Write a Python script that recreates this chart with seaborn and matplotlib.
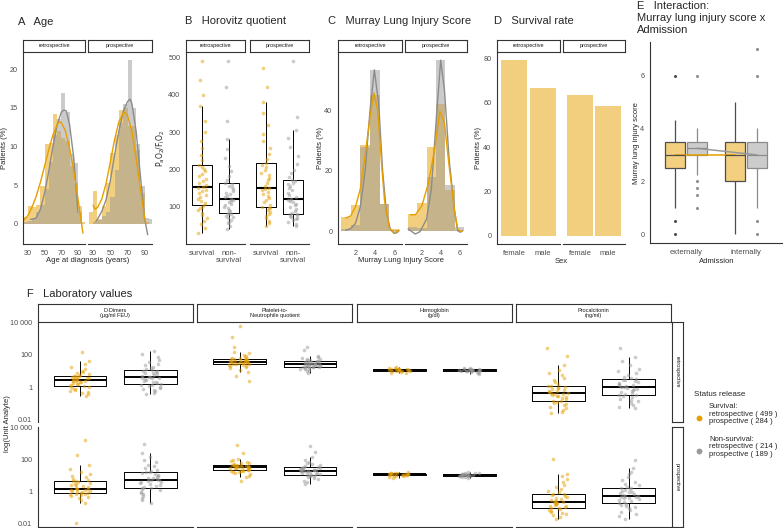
import numpy as np
import pandas as pd
import matplotlib
matplotlib.use('Agg')
import matplotlib.pyplot as plt
import seaborn as sns
from matplotlib.lines import Line2D
from matplotlib.ticker import NullLocator

# ---------------- data ----------------
status_order = ['survival', 'non-survival']

# A: age histograms (% of patients per 5-year bin) and smoothed curves
age_bins = [22.5, 27.5, 32.5, 37.5, 42.5, 47.5, 52.5, 57.5, 62.5, 67.5, 72.5, 77.5, 82.5, 87.5, 92.5, 97.5]
age_retro_surv = [0.6, 0.9, 2.3, 2.2, 2.4, 4.9, 10.3, 10.5, 14.2, 12.0, 11.1, 10.7, 7.5, 5.3, 2.3, 0.2]
age_retro_non = [0.0, 0.2, 0.4, 0.8, 1.5, 2.5, 4.5, 8.0, 11.5, 13.5, 16.9, 14.5, 9.0, 7.9, 1.5, 0.0]
age_pros_surv = [0.0, 1.5, 4.3, 0.6, 2.3, 5.3, 9.1, 11.5, 14.7, 15.0, 12.6, 12.6, 9.6, 4.0, 0.2, 0.0]
age_pros_non = [0.0, 0.0, 0.3, 0.5, 1.0, 1.5, 3.5, 7.0, 13.0, 15.5, 21.2, 15.0, 10.3, 4.9, 0.8, 0.6]

age_curve_retro_surv_x = [25, 30, 35, 40, 45, 50, 55, 60, 65, 68, 70, 75, 80, 85, 90, 96]
age_curve_retro_surv_y = [0.5, 1.1, 2.2, 3.6, 5.4, 7.5, 9.6, 11.5, 12.8, 13.2, 13.1, 12.0, 9.8, 6.8, 3.3, -1.2]
age_curve_retro_non_x = [33, 36, 40, 45, 50, 55, 60, 65, 70, 73, 76, 80, 85, 90]
age_curve_retro_non_y = [0.6, 0.6, 0.8, 1.9, 4.0, 6.8, 10.0, 12.8, 14.4, 14.7, 14.6, 12.8, 8.5, 1.5]
age_curve_pros_surv_x = [30, 32, 35, 40, 45, 50, 55, 60, 65, 67, 70, 75, 80, 85, 90, 91.5]
age_curve_pros_surv_y = [2.4, 1.9, 2.1, 3.2, 5.2, 8.0, 10.9, 13.2, 14.3, 14.4, 14.0, 12.0, 8.5, 4.5, 0.7, 0.0]
age_curve_pros_non_x = [33, 35, 40, 45, 50, 55, 60, 65, 70, 73, 75, 80, 85, 90, 93.5]
age_curve_pros_non_y = [0.3, 0.6, 1.6, 3.1, 5.6, 8.9, 12.0, 14.5, 15.8, 16.1, 15.6, 12.0, 6.2, 0.6, -1.4]

# B: Horovitz quotient (PaO2/FiO2)
pf_retro_surv = [31, 45, 55, 62, 70, 78, 85, 92, 97, 101, 105, 110, 116, 121, 127, 132, 137, 142, 146, 150, 153,
                 158, 164, 170, 176, 182, 188, 195, 201, 206, 211, 225, 240, 258, 275, 300, 330, 369, 400, 440, 490]
pf_retro_non = [42, 50, 56, 61, 66, 70, 74, 77, 80, 82, 84, 88, 92, 96, 100, 104, 108, 112, 116, 119, 122,
                126, 130, 134, 138, 142, 147, 152, 156, 160, 164, 172, 182, 195, 210, 230, 255, 282, 330, 420, 490]
pf_pros_surv = [48, 56, 63, 70, 76, 82, 87, 92, 96, 98, 100, 106, 112, 118, 124, 130, 135, 140, 144, 148, 151,
                157, 164, 171, 178, 185, 192, 199, 206, 212, 217, 228, 242, 258, 275, 295, 320, 350, 380, 420, 470]
pf_pros_non = [50, 55, 60, 64, 68, 71, 74, 77, 79, 80, 81, 85, 90, 95, 100, 104, 108, 112, 116, 119, 121,
               126, 132, 138, 144, 150, 155, 160, 165, 169, 172, 180, 190, 200, 215, 235, 260, 285, 306, 340, 490]

# C: Murray lung injury score histograms and curves
murray_bins = [1, 2, 3, 4, 5, 6]
murray_retro_surv = [4.5, 8.7, 28.7, 45.0, 8.9, 0.7]
murray_retro_non = [0.8, 2.0, 28.0, 53.5, 9.0, 0.5]
murray_pros_surv = [5.6, 9.2, 27.9, 42.0, 13.6, 0.5]
murray_pros_non = [1.5, 1.0, 18.0, 56.7, 15.2, 1.2]

murray_curve_retro_surv_x = [1.0, 1.5, 2.0, 2.5, 3.0, 3.5, 3.9, 4.3, 4.7, 5.0, 5.5, 6.0, 6.5]
murray_curve_retro_surv_y = [4.3, 5.0, 8.0, 14.0, 25.0, 38.0, 45.8, 40.0, 22.0, 10.0, 1.0, -0.5, 0.2]
murray_curve_retro_non_x = [1.0, 1.5, 2.0, 2.5, 3.0, 3.5, 3.95, 4.4, 4.8, 5.2, 5.6, 6.0, 6.3, 6.5]
murray_curve_retro_non_y = [0.3, 0.8, 2.5, 8.0, 20.0, 40.0, 53.5, 42.0, 20.0, 6.0, 0.5, -0.8, -0.5, 0.2]
murray_curve_pros_surv_x = [0.77, 1.3, 2.0, 2.7, 3.4, 3.9, 4.4, 4.9, 5.45, 5.8, 6.15, 6.3]
murray_curve_pros_surv_y = [5.4, 5.4, 8.4, 16.0, 28.0, 39.7, 35.8, 21.5, 7.3, 0.7, -0.2, 0.0]
murray_curve_pros_non_x = [0.53, 1.3, 1.8, 2.5, 3.0, 3.55, 4.0, 4.4, 4.9, 5.45, 5.8, 6.1, 6.3]
murray_curve_pros_non_y = [0.7, -1.0, -0.2, 4.0, 13.8, 38.0, 56.7, 46.8, 23.7, 7.3, 0.1, -0.4, 0.0]

# D: survival rate by sex
sex_labels = ['female', 'male']
survival_retro = [79.2, 66.8]
survival_pros = [63.5, 58.5]

# E: Murray lung injury score by admission and status
admission_order = ['externally', 'internally']
e_ext_surv = [0, 0.5, 1.0, 1.5, 1.75, 2.0, 2.0, 2.25, 2.25, 2.5, 2.5, 2.5, 2.5, 2.75, 2.75, 2.75, 3.0, 3.0, 3.0, 3.0,
              3.0, 3.0, 3.0, 3.0, 3.25, 3.25, 3.25, 3.25, 3.5, 3.5, 3.5, 3.5, 3.5, 3.5, 3.75, 3.75, 4.0, 4.0, 4.0,
              4.33, 6.0]
e_ext_non = [1.0, 1.5, 1.75, 2.0, 2.25, 2.5, 2.75, 2.75, 3.0, 3.0, 3.0, 3.0, 3.0, 3.0, 3.0, 3.25, 3.25, 3.25, 3.25,
             3.25, 3.25, 3.25, 3.25, 3.25, 3.25, 3.5, 3.5, 3.5, 3.5, 3.5, 3.5, 3.5, 3.5, 3.5, 3.5, 3.75, 3.75, 4.0,
             4.0, 4.0, 6.0]
e_int_surv = [0, 0.5, 1.0, 1.0, 1.25, 1.5, 1.5, 1.75, 1.75, 2.0, 2.0, 2.25, 2.25, 2.5, 2.5, 2.5, 2.75, 2.75, 2.75,
              3.0, 3.0, 3.0, 3.0, 3.0, 3.0, 3.25, 3.25, 3.25, 3.25, 3.5, 3.5, 3.5, 3.5, 3.75, 3.75, 4.0, 4.0, 4.25,
              4.5, 4.75, 5.0]
e_int_non = [0, 0.5, 1.0, 1.5, 1.75, 2.0, 2.0, 2.25, 2.25, 2.5, 2.5, 2.5, 2.75, 2.75, 2.75, 3.0, 3.0, 3.0, 3.0, 3.0,
             3.0, 3.0, 3.0, 3.25, 3.25, 3.25, 3.25, 3.5, 3.5, 3.5, 3.5, 3.5, 3.5, 3.75, 3.75, 3.75, 4.0, 4.0, 4.0,
             6.0, 7.0]

# F: laboratory values
lab_names = ['D-Dimers\n(µg/ml FEU)', 'Platelet-to-\nNeutrophile quotient', 'Hemoglobin\n(g/dl)',
             'Procalcitonin\n(ng/ml)']
cohorts = ['retrospective', 'prospective']

ddimer_retro_surv = [0.28, 0.35, 0.42, 0.5, 0.6, 0.7, 0.8, 0.9, 1.0, 1.1, 1.23, 1.35, 1.5, 1.65, 1.8, 1.95, 2.1, 2.25,
                     2.4, 2.5, 2.6, 2.8, 3.0, 3.2, 3.4, 3.7, 4.0, 4.3, 4.6, 4.9, 5.1, 5.6, 6.3, 7.2, 8.5, 10, 13, 18,
                     28, 42, 150]
ddimer_retro_non = [0.37, 0.45, 0.55, 0.65, 0.75, 0.85, 0.95, 1.1, 1.25, 1.4, 1.55, 1.75, 2.0, 2.2, 2.5, 2.8, 3.1, 3.4,
                    3.7, 3.9, 4.1, 4.5, 5.0, 5.6, 6.2, 7.0, 7.8, 8.7, 9.7, 10.6, 11.5, 13, 15, 18, 22, 28, 36, 50,
                    75, 120, 182]
ddimer_pros_surv = [0.0115, 0.21, 0.3, 0.4, 0.48, 0.55, 0.62, 0.68, 0.73, 0.77, 0.81, 0.86, 0.92, 0.98, 1.05, 1.12,
                    1.2, 1.3, 1.4, 1.5, 1.58, 1.75, 1.95, 2.2, 2.5, 2.8, 3.2, 3.6, 4.0, 4.4, 4.7, 5.5, 6.5, 8, 10, 13,
                    18, 28, 47, 200, 1800]
ddimer_pros_non = [0.21, 0.3, 0.42, 0.55, 0.7, 0.85, 1.0, 1.2, 1.4, 1.6, 1.82, 2.1, 2.4, 2.7, 3.0, 3.4, 3.8, 4.3, 4.7,
                   5.1, 5.4, 6.0, 6.8, 7.7, 8.7, 9.8, 11, 12.5, 14.5, 16, 17.8, 20, 24, 30, 38, 50, 70, 100, 150,
                   250, 890]

pnq_retro_surv = [2.4, 5.0, 9.1, 12, 15, 17, 19, 21, 23, 24.5, 25.7, 27, 28.5, 30, 31.5, 33, 34, 35, 36, 37, 38, 40,
                  42, 44, 46, 48, 50, 52, 53.5, 55, 55.6, 60, 66, 74, 85, 100, 125, 158, 300, 1200, 6300]
pnq_retro_non = [7.9, 10, 11.5, 13, 14, 15, 15.8, 16.4, 16.8, 17.1, 17.4, 18.2, 19, 19.8, 20.7, 21.6, 22.5, 23.4,
                 24.3, 25, 25.7, 26.8, 28, 29.2, 30.5, 32, 33.5, 35, 36.8, 38.5, 39.8, 42, 45, 48, 52, 57, 63, 70,
                 85, 200, 316]
pnq_pros_surv = [4.4, 7.9, 10, 12, 14, 16, 17.5, 18.8, 19.8, 20.6, 21.4, 22.5, 23.7, 25, 26.3, 27.6, 29, 30.3, 31.5,
                 32.3, 33, 34.5, 36, 37.5, 39, 40.5, 42, 43.5, 45, 46, 46.8, 50, 54, 59, 65, 72, 82, 95, 112, 250,
                 776]
pnq_pros_non = [3.0, 4.0, 5.0, 6.0, 7.0, 8.0, 9.0, 9.8, 10.5, 11.0, 11.5, 12.5, 13.5, 14.5, 15.5, 16.5, 17.5, 18.5,
                19.3, 19.9, 20.4, 21.5, 22.7, 24, 25.3, 26.6, 28, 29.5, 31, 32.2, 33, 36, 40, 45, 52, 60, 72, 90,
                141, 300, 690]

hb_retro_surv = [7.0, 8.0, 8.8, 9.3, 9.7, 10.0, 10.3, 10.6, 10.9, 11.2, 11.5, 11.8, 12.1, 12.4, 12.7, 13.0, 13.4,
                 13.9, 14.5, 15.3, 16.5]
hb_retro_non = [6.8, 7.5, 8.2, 8.7, 9.1, 9.5, 9.8, 10.1, 10.4, 10.7, 11.0, 11.3, 11.6, 11.9, 12.2, 12.5, 12.9, 13.4,
                14.0, 14.8, 16.0]
hb_pros_surv = [7.5, 8.4, 9.1, 9.7, 10.1, 10.5, 10.8, 11.1, 11.4, 11.7, 12.0, 12.3, 12.6, 12.9, 13.2, 13.5, 13.9,
                14.4, 15.0, 15.8, 17.0]
hb_pros_non = [7.2, 8.0, 8.7, 9.2, 9.6, 10.0, 10.3, 10.6, 10.9, 11.2, 11.5, 11.8, 12.1, 12.4, 12.7, 13.0, 13.4, 13.9,
               14.5, 15.3, 16.5]

pct_retro_surv = [0.0234, 0.03, 0.04, 0.05, 0.06, 0.075, 0.09, 0.105, 0.12, 0.135, 0.145, 0.17, 0.2, 0.23, 0.26,
                  0.29, 0.32, 0.35, 0.38, 0.41, 0.43, 0.48, 0.54, 0.6, 0.67, 0.75, 0.84, 0.93, 1.02, 1.1, 1.17, 1.5,
                  2.0, 2.8, 3.8, 5.5, 8, 12, 23.4, 80, 282]
pct_retro_non = [0.048, 0.06, 0.08, 0.1, 0.13, 0.16, 0.19, 0.23, 0.27, 0.3, 0.33, 0.38, 0.44, 0.5, 0.57, 0.64, 0.71,
                 0.79, 0.87, 0.94, 1.0, 1.12, 1.25, 1.4, 1.6, 1.8, 2.0, 2.3, 2.6, 2.8, 3.0, 3.6, 4.5, 5.8, 7.5, 10,
                 14, 22, 40, 71, 250]
pct_pros_surv = [0.0204, 0.026, 0.033, 0.041, 0.05, 0.058, 0.066, 0.075, 0.083, 0.09, 0.098, 0.11, 0.12, 0.135, 0.15,
                 0.165, 0.18, 0.195, 0.21, 0.218, 0.224, 0.25, 0.28, 0.32, 0.37, 0.43, 0.5, 0.57, 0.64, 0.7, 0.74,
                 0.9, 1.15, 1.5, 2.0, 2.8, 4.0, 6.0, 9.0, 12.6, 112]
pct_pros_non = [0.0204, 0.03, 0.042, 0.055, 0.07, 0.09, 0.11, 0.13, 0.155, 0.18, 0.2, 0.23, 0.26, 0.3, 0.34, 0.38,
                0.42, 0.46, 0.5, 0.53, 0.55, 0.62, 0.7, 0.8, 0.9, 1.02, 1.15, 1.3, 1.45, 1.6, 1.7, 2.0, 2.5, 3.2, 4.2,
                5.5, 8, 12, 18, 30, 98]

lab_data = [
    [(ddimer_retro_surv, ddimer_retro_non), (ddimer_pros_surv, ddimer_pros_non)],
    [(pnq_retro_surv, pnq_retro_non), (pnq_pros_surv, pnq_pros_non)],
    [(hb_retro_surv, hb_retro_non), (hb_pros_surv, hb_pros_non)],
    [(pct_retro_surv, pct_retro_non), (pct_pros_surv, pct_pros_non)],
]
legend_counts = {'survival': (499, 284), 'non-survival': (214, 189)}

# ---------------- style ----------------
ORANGE = '#E69F00'
GREY = '#999999'
GREY_LINE = '#8C8C8C'
ORANGE_FILL = '#F3CF80'
GREY_FILL = '#CCCCCC'
TXT = '#4D4D4D'

sns.set_style('white')
plt.rcParams['font.family'] = ['Liberation Sans', 'DejaVu Sans']
np.random.seed(7)

W, H = 784, 528
fig = plt.figure(figsize=(W / 100, H / 100), dpi=100)


def px_axes(x0, y0, x1, y1):
    return fig.add_axes([x0 / W, 1 - y1 / H, (x1 - x0) / W, (y1 - y0) / H])


def ftext(x, y, s, **kw):
    kw.setdefault('va', 'center')
    return fig.text(x / W, 1 - y / H, s, **kw)


def strip(x0, y0, x1, y1, text, rotation=0):
    ax = px_axes(x0, y0, x1, y1)
    ax.set_xticks([])
    ax.set_yticks([])
    ax.set_facecolor('white')
    for s in ax.spines.values():
        s.set_visible(True)
        s.set_linewidth(0.8)
        s.set_color('#333333')
    ax.text(0.5, 0.5, text, ha='center', va='center', fontsize=4, rotation=rotation,
            transform=ax.transAxes, linespacing=1.1, color='#1A1A1A')
    return ax


def classic(ax, left=True, bottom=True):
    ax.set_facecolor('none')
    ax.grid(False)
    ax.spines['top'].set_visible(False)
    ax.spines['right'].set_visible(False)
    ax.spines['left'].set_visible(left)
    ax.spines['bottom'].set_visible(bottom)
    for s in ['left', 'bottom']:
        ax.spines[s].set_linewidth(0.8)
        ax.spines[s].set_color('#333333')
    ax.tick_params(axis='both', labelsize=5.2, labelcolor=TXT, color='#333333', length=2.5,
                   width=0.6, pad=1.5)
    if not left:
        ax.tick_params(axis='y', left=False, labelleft=False)
    if not bottom:
        ax.tick_params(axis='x', bottom=False, labelbottom=False)
    ax.set_xlabel('')
    ax.set_ylabel('')


def hist_panel(ax, centers, surv, non, curves, binwidth, binrange):
    df = pd.DataFrame({'x': centers * 2, 'pct': surv + non,
                       'status': ['survival'] * len(centers) + ['non-survival'] * len(centers)})
    # grey layer on top of the orange one
    sns.histplot(data=df, x='x', weights='pct', hue='status', hue_order=status_order[::-1],
                 palette={'survival': ORANGE, 'non-survival': GREY}, binwidth=binwidth,
                 binrange=binrange, alpha=0.5, edgecolor='none', linewidth=0, legend=False, ax=ax)
    (sx, sy), (nx, ny) = curves
    sns.lineplot(x=nx, y=ny, color=GREY_LINE, linewidth=1.0, ax=ax)
    sns.lineplot(x=sx, y=sy, color=ORANGE, linewidth=1.0, ax=ax)


# ---------------- panel titles ----------------
ftext(18, 22, 'A   Age', fontsize=8)
ftext(185, 21, 'B   Horovitz quotient', fontsize=8)
ftext(328, 21, 'C   Murray Lung Injury Score', fontsize=8)
ftext(494, 21, 'D   Survival rate', fontsize=8)
ftext(637, 6, 'E   Interaction:', fontsize=8)
ftext(637, 18, 'Murray lung injury score x', fontsize=8)
ftext(637, 30, 'Admission', fontsize=8)
ftext(27, 294, 'F   Laboratory values', fontsize=8)

# ---------------- A ----------------
a_cols = [(23, 85), (88, 152)]
a_sets = [(age_retro_surv, age_retro_non,
           ((age_curve_retro_surv_x, age_curve_retro_surv_y), (age_curve_retro_non_x, age_curve_retro_non_y))),
          (age_pros_surv, age_pros_non,
           ((age_curve_pros_surv_x, age_curve_pros_surv_y), (age_curve_pros_non_x, age_curve_pros_non_y)))]
for i, ((x0, x1), (s, n, curves)) in enumerate(zip(a_cols, a_sets)):
    strip(x0, 40, x1, 52, cohorts[i])
    ax = px_axes(x0, 52, x1, 244)
    hist_panel(ax, age_bins, s, n, curves, 5, (20, 100))
    ax.set_xlim(24, 98.5)
    ax.set_ylim(-2.6, 22.2)
    ax.set_xticks([30, 50, 70, 90])
    ax.set_yticks([0, 5, 10, 15, 20])
    classic(ax, left=(i == 0))
ftext(5, 148, 'Patients (%)', fontsize=5.5, rotation=90, ha='center')
ftext(88, 260, 'Age at diagnosis (years)', fontsize=5.5, ha='center')

# ---------------- B ----------------
b_cols = [(186, 245), (250, 309)]
b_sets = [(pf_retro_surv, pf_retro_non), (pf_pros_surv, pf_pros_non)]
for i, ((x0, x1), (s, n)) in enumerate(zip(b_cols, b_sets)):
    strip(x0, 40, x1, 52, cohorts[i])
    ax = px_axes(x0, 52, x1, 244)
    df = pd.DataFrame({'status': ['survival'] * len(s) + ['non-survival'] * len(n), 'pf': s + n})
    for st, col in [('survival', ORANGE), ('non-survival', GREY)]:
        sns.stripplot(data=df[df.status == st], x='status', y='pf', order=status_order, color=col,
                      jitter=0.18, size=2.6, alpha=0.5, linewidth=0, ax=ax)
    sns.boxplot(data=df, x='status', y='pf', order=status_order, fill=False, color='black',
                showfliers=False, showcaps=False, width=0.75, linewidth=0.7,
                medianprops=dict(linewidth=1.5), ax=ax)
    ax.set_xlim(-0.6, 1.6)
    ax.set_ylim(1, 514)
    ax.set_yticks([100, 200, 300, 400, 500])
    ax.set_xticks([0, 1])
    ax.set_xticklabels(['survival', 'non-\nsurvival'], linespacing=1.0)
    classic(ax, left=(i == 0))
    ax.tick_params(axis='x', labelsize=5.5)
ftext(161, 148, r'$\mathrm{P_aO_2/F_iO_2}$', fontsize=5.5, rotation=90, ha='center')

# ---------------- C ----------------
c_cols = [(338, 402), (405, 467)]
c_sets = [(murray_retro_surv, murray_retro_non,
           ((murray_curve_retro_surv_x, murray_curve_retro_surv_y),
            (murray_curve_retro_non_x, murray_curve_retro_non_y))),
          (murray_pros_surv, murray_pros_non,
           ((murray_curve_pros_surv_x, murray_curve_pros_surv_y),
            (murray_curve_pros_non_x, murray_curve_pros_non_y)))]
for i, ((x0, x1), (s, n, curves)) in enumerate(zip(c_cols, c_sets)):
    strip(x0, 40, x1, 52, cohorts[i])
    ax = px_axes(x0, 52, x1, 244)
    hist_panel(ax, murray_bins, s, n, curves, 1, (0.5, 6.5))
    ax.set_xlim(0.2, 6.8)
    ax.set_ylim(-4.3, 59.4)
    ax.set_xticks([2, 4, 6])
    ax.set_yticks([0, 20, 40])
    classic(ax, left=(i == 0))
ftext(321, 148, 'Patients (%)', fontsize=5.5, rotation=90, ha='center')
ftext(401, 260, 'Murray Lung Injury Score', fontsize=5.5, ha='center')

# ---------------- D ----------------
d_cols = [(497, 560), (563, 625)]
for i, ((x0, x1), vals) in enumerate(zip(d_cols, [survival_retro, survival_pros])):
    strip(x0, 40, x1, 52, cohorts[i])
    ax = px_axes(x0, 52, x1, 244)
    sns.barplot(x=sex_labels, y=vals, color=ORANGE, alpha=0.5, saturation=1, width=0.9, ax=ax)
    for p in ax.patches:
        p.set_edgecolor('none')
    ax.set_xlim(-0.6, 1.6)
    ax.set_ylim(-3.7, 82.9)
    ax.set_yticks([0, 20, 40, 60, 80])
    classic(ax, left=(i == 0))
    ax.tick_params(axis='x', labelsize=5.5)
ftext(478, 148, 'Patients (%)', fontsize=5.5, rotation=90, ha='center')
ftext(561, 261, 'Sex', fontsize=5.5, ha='center')

# ---------------- E ----------------
ax = px_axes(650, 42, 782, 243)
dfE = pd.DataFrame({
    'admission': (['externally'] * len(e_ext_surv) + ['externally'] * len(e_ext_non)
                  + ['internally'] * len(e_int_surv) + ['internally'] * len(e_int_non)),
    'status': (['survival'] * len(e_ext_surv) + ['non-survival'] * len(e_ext_non)
               + ['survival'] * len(e_int_surv) + ['non-survival'] * len(e_int_non)),
    'score': e_ext_surv + e_ext_non + e_int_surv + e_int_non,
})
e_fill = {'survival': ORANGE_FILL, 'non-survival': GREY_FILL}
e_line = {'survival': '#4D4D4D', 'non-survival': GREY_LINE}
for st in status_order:
    sns.boxplot(data=dfE[dfE.status == st], x='admission', y='score', hue='status',
                order=admission_order, hue_order=status_order, palette=e_fill, saturation=1,
                linecolor=e_line[st], linewidth=0.9, width=0.75, gap=0.1, dodge=True, showcaps=False,
                flierprops=dict(marker='o', markersize=2.2, markerfacecolor=e_line[st],
                                markeredgecolor='none'),
                legend=False, ax=ax)
sns.pointplot(data=dfE, x='admission', y='score', hue='status', order=admission_order,
              hue_order=status_order, palette={'survival': ORANGE, 'non-survival': GREY},
              estimator='median', errorbar=None, dodge=0.375, markersize=0, markeredgewidth=0,
              linewidth=1.1, legend=False, ax=ax)
ax.set_xlim(-0.6, 1.6)
ax.set_ylim(-0.33, 7.27)
ax.set_yticks([0, 2, 4, 6])
classic(ax)
ax.tick_params(axis='x', labelsize=5.5)
ftext(637, 143, 'Murray lung injury score', fontsize=5.5, rotation=90, ha='center')
ftext(717, 261, 'Admission', fontsize=5.5, ha='center')

# ---------------- F ----------------
lab_cols = [(37.7, 192.7), (197.3, 352.3), (357, 511.7), (515.7, 671)]
lab_rows = [(322, 422), (427, 526.5)]
for j, (x0, x1) in enumerate(lab_cols):
    strip(x0, 304, x1, 322, lab_names[j])
    for i, (y0, y1) in enumerate(lab_rows):
        s, n = lab_data[j][i]
        ax = px_axes(x0, y0, x1, y1)
        df = pd.DataFrame({'status': ['survival'] * len(s) + ['non-survival'] * len(n), 'value': s + n})
        for st, col in [('survival', ORANGE), ('non-survival', GREY)]:
            sns.stripplot(data=df[df.status == st], x='status', y='value', order=status_order, color=col,
                          jitter=0.15, size=2.6, alpha=0.5, linewidth=0, log_scale=True, ax=ax)
        sns.boxplot(data=df, x='status', y='value', order=status_order, fill=False, color='black',
                    showfliers=False, showcaps=False, width=0.75, linewidth=0.7, log_scale=True,
                    medianprops=dict(linewidth=1.4), ax=ax)
        ax.set_xlim(-0.6, 1.6)
        ax.set_ylim(10 ** -2.17, 10 ** 4.04)
        ax.set_yticks([0.01, 1, 100, 10000])
        ax.set_yticklabels(['0.01', '1', '100', '10 000'])
        ax.yaxis.set_minor_locator(NullLocator())
        classic(ax, left=(j == 0), bottom=(i == 1))
        ax.tick_params(axis='x', bottom=False, labelbottom=False)
        if j == 3:
            strip(671.7, y0, 682.7, y1, cohorts[i], rotation=-90)
ftext(8, 424, 'log(Unit Analyte)', fontsize=5.5, rotation=90, ha='center')

# legend
ftext(694, 394, 'Status release', fontsize=5.8)
for st, col, yc in [('survival', ORANGE, 414), ('non-survival', GREY, 447)]:
    r, p = legend_counts[st]
    head = 'Survival:' if st == 'survival' else 'Non-survival:'
    ftext(709, yc, f'{head}\nretrospective ( {r} )\nprospective ( {p} )', fontsize=5.5, linespacing=1.15)
    fig.add_artist(Line2D([699.3 / W], [1 - (yc + 3.5) / H], marker='o', markersize=4.2, color=col,
                          markeredgewidth=0, linestyle='none', transform=fig.transFigure))

fig.savefig('out.png', dpi=100)
